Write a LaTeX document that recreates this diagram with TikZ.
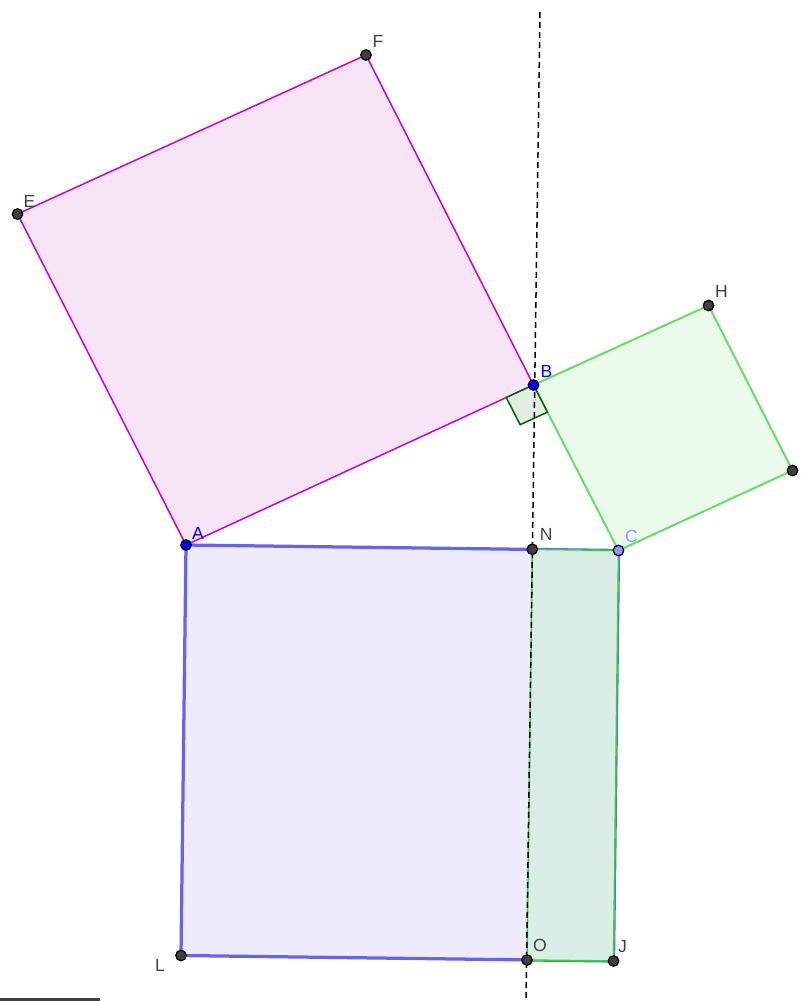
\documentclass[tikz,border=0pt]{standalone}
\usepackage{fontspec}
\setmainfont{Liberation Sans}
\usetikzlibrary{calc}

\definecolor{sqpink}{RGB}{247,228,247}
\definecolor{edgepink}{RGB}{204,0,204}
\definecolor{sqgreen}{RGB}{235,251,235}
\definecolor{edgegreen}{RGB}{102,221,102}
\definecolor{sqblue}{RGB}{238,236,252}
\definecolor{edgeblue}{RGB}{100,100,240}
\definecolor{rectgreen}{RGB}{217,237,230}
\definecolor{edgerect}{RGB}{50,215,50}
\definecolor{anglefill}{RGB}{228,237,228}
\definecolor{angleedge}{RGB}{0,100,0}
\definecolor{ptgray}{RGB}{64,64,64}
\definecolor{ptlight}{RGB}{150,150,255}

\begin{document}
\begin{tikzpicture}[
  x=0.2mm, y=-0.2mm,
  font=\fontsize{10}{12}\selectfont,
  pt/.style={circle, draw=black, line width=0.25mm, fill=ptgray, inner sep=0pt, minimum size=2.1mm},
  lbl/.style={text=ptgray, inner sep=0pt},
  sqedge/.style={line join=round}
]
\useasboundingbox (0,0) rectangle (800,1001);

%% ---------- vertices (pixel grid of the construction) ----------
\coordinate (A) at (186,545);
\coordinate (B) at (533.5,385);
\coordinate (C) at (618.5,550.5);
\coordinate (E) at (17.5,214);
\coordinate (F) at (366,55);
\coordinate (H) at (708.5,305.5);
\coordinate (I) at (792.5,470.5);
\coordinate (N) at (532.3,549.3);
\coordinate (L) at (181,955.5);
\coordinate (O) at (527,960);
\coordinate (J) at (613.5,961);

%% ---------- square on AB ----------
\draw[sqedge, fill=sqpink, draw=edgepink, line width=0.3mm] (A) -- (B) -- (F) -- (E) -- cycle;

%% ---------- square on BC ----------
\draw[sqedge, fill=sqgreen, draw=edgegreen, line width=0.4mm] (B) -- (C) -- (I) -- (H) -- cycle;

%% ---------- square on AC, split at N--O ----------
\draw[sqedge, fill=sqblue, draw=edgeblue, line width=0.65mm] (A) -- (C) -- (J) -- (L) -- cycle;
\draw[sqedge, fill=rectgreen, draw=edgerect, line width=0.3mm] (N) -- (C) -- (J) -- (O) -- cycle;

%% ---------- right angle at B ----------
\coordinate (ba) at ($(B)!6mm!(A)$);
\coordinate (bc) at ($(B)!6.1mm!(C)$);
\draw[fill=anglefill, draw=angleedge, line width=0.3mm] (B) -- (ba) -- ($(ba)+(bc)-(B)$) -- (bc) -- cycle;

%% ---------- height through B ----------
\coordinate (htop) at (540,12);
\coordinate (hbot) at (526,1001);
\draw[black, line width=0.3mm, dash pattern=on 1.2mm off 0.8mm] (htop) -- (hbot);

%% ---------- stray bar, bottom left ----------
\coordinate (bar1) at (0,999);
\coordinate (bar2) at (100,999);
\draw[ptgray, line width=0.6mm] (bar1) -- (bar2);

%% ---------- points ----------
\node[pt, fill=blue] (pA) at (A) {};
\node[pt, fill=blue] (pB) at (B) {};
\node[pt, fill=ptlight] (pC) at (C) {};
\foreach \p in {E,F,H,I,N,L,O,J}
  \node[pt] (p\p) at (\p) {};

%% ---------- labels ----------
\node[lbl, text=blue] (lA) at ($(A)+(12,-12)$) {A};
\node[lbl, text=blue] (lB) at ($(B)+(13,-14)$) {B};
\node[lbl, text=ptlight] (lC) at ($(C)+(13,-14)$) {C};
\node[lbl] (lE) at ($(E)+(12,-13)$) {E};
\node[lbl] (lF) at ($(F)+(12,-14)$) {F};
\node[lbl] (lH) at ($(H)+(13,-14)$) {H};
\node[lbl] (lN) at ($(N)+(14,-15)$) {N};
\node[lbl] (lL) at ($(L)+(-21,10)$) {L};
\node[lbl] (lO) at ($(O)+(13,-15)$) {O};
\node[lbl] (lJ) at ($(J)+(9,-14)$) {J};

\end{tikzpicture}
\end{document}
